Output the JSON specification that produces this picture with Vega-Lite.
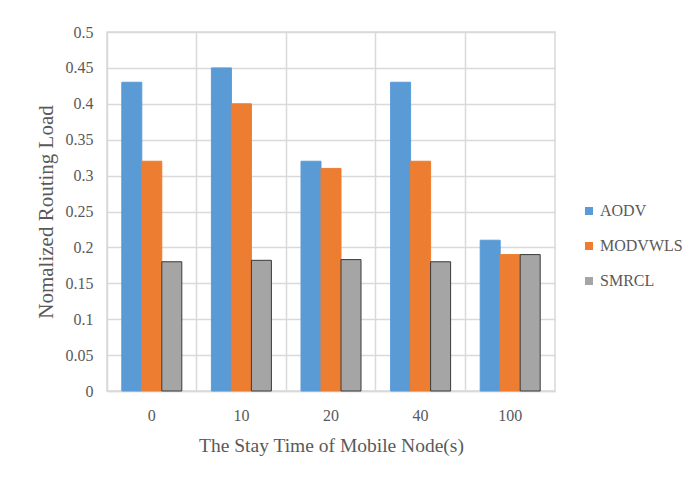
{
  "$schema": "https://vega.github.io/schema/vega-lite/v6.json",
  "autosize": {"type": "none"},
  "padding": {"left": 107, "top": 32, "right": 137, "bottom": 88},
  "width": 448,
  "height": 359,
  "background": "white",
  "data": {
    "values": [
      {"time": "0", "protocol": "AODV", "load": 0.43},
      {"time": "0", "protocol": "MODVWLS", "load": 0.32},
      {"time": "0", "protocol": "SMRCL", "load": 0.18},
      {"time": "10", "protocol": "AODV", "load": 0.45},
      {"time": "10", "protocol": "MODVWLS", "load": 0.40},
      {"time": "10", "protocol": "SMRCL", "load": 0.182},
      {"time": "20", "protocol": "AODV", "load": 0.32},
      {"time": "20", "protocol": "MODVWLS", "load": 0.31},
      {"time": "20", "protocol": "SMRCL", "load": 0.183},
      {"time": "40", "protocol": "AODV", "load": 0.43},
      {"time": "40", "protocol": "MODVWLS", "load": 0.32},
      {"time": "40", "protocol": "SMRCL", "load": 0.18},
      {"time": "100", "protocol": "AODV", "load": 0.21},
      {"time": "100", "protocol": "MODVWLS", "load": 0.19},
      {"time": "100", "protocol": "SMRCL", "load": 0.19}
    ]
  },
  "mark": {"type": "bar", "strokeWidth": 1},
  "encoding": {
    "x": {
      "field": "time",
      "type": "nominal",
      "sort": ["0", "10", "20", "40", "100"],
      "scale": {"paddingInner": 0, "paddingOuter": 0},
      "axis": {
        "title": "The Stay Time of Mobile Node(s)",
        "labelAngle": 0,
        "grid": true,
        "bandPosition": 0,
        "ticks": false,
        "labelPadding": 16,
        "titlePadding": 13,
        "titleFontSize": 19.5
      }
    },
    "xOffset": {
      "field": "protocol",
      "type": "nominal",
      "sort": ["AODV", "MODVWLS", "SMRCL"],
      "scale": {"paddingInner": 0, "paddingOuter": 0.74}
    },
    "y": {
      "field": "load",
      "type": "quantitative",
      "scale": {"domain": [0, 0.5]},
      "axis": {
        "title": "Nomalized Routing Load",
        "values": [0, 0.05, 0.1, 0.15, 0.2, 0.25, 0.3, 0.35, 0.4, 0.45, 0.5],
        "format": "~g",
        "ticks": false,
        "domain": false,
        "labelPadding": 14,
        "titlePadding": 9,
        "titleFontSize": 21
      }
    },
    "fill": {
      "field": "protocol",
      "type": "nominal",
      "sort": ["AODV", "MODVWLS", "SMRCL"],
      "scale": {"range": ["#5B9BD5", "#ED7D31", "#A5A5A5"]},
      "legend": {
        "title": null,
        "orient": "none",
        "legendX": 474,
        "legendY": 171,
        "symbolType": "square",
        "symbolSize": 64,
        "rowPadding": 19,
        "labelFontSize": 16,
        "labelOffset": 3
      }
    },
    "stroke": {
      "field": "protocol",
      "type": "nominal",
      "sort": ["AODV", "MODVWLS", "SMRCL"],
      "scale": {"range": ["#5B9BD5", "#ED7D31", "#3A3A3A"]},
      "legend": null
    }
  },
  "config": {
    "font": "Liberation Serif",
    "view": {"stroke": "#D9D9D9", "strokeWidth": 1.5},
    "axis": {
      "labelFont": "Liberation Serif",
      "titleFont": "Liberation Serif",
      "labelFontSize": 16,
      "titleFontWeight": "normal",
      "labelColor": "#595959",
      "titleColor": "#595959",
      "gridColor": "#D9D9D9",
      "gridWidth": 1.5,
      "domainColor": "#D9D9D9",
      "domainWidth": 1.5
    },
    "legend": {
      "labelFont": "Liberation Serif",
      "labelColor": "#595959"
    }
  }
}
